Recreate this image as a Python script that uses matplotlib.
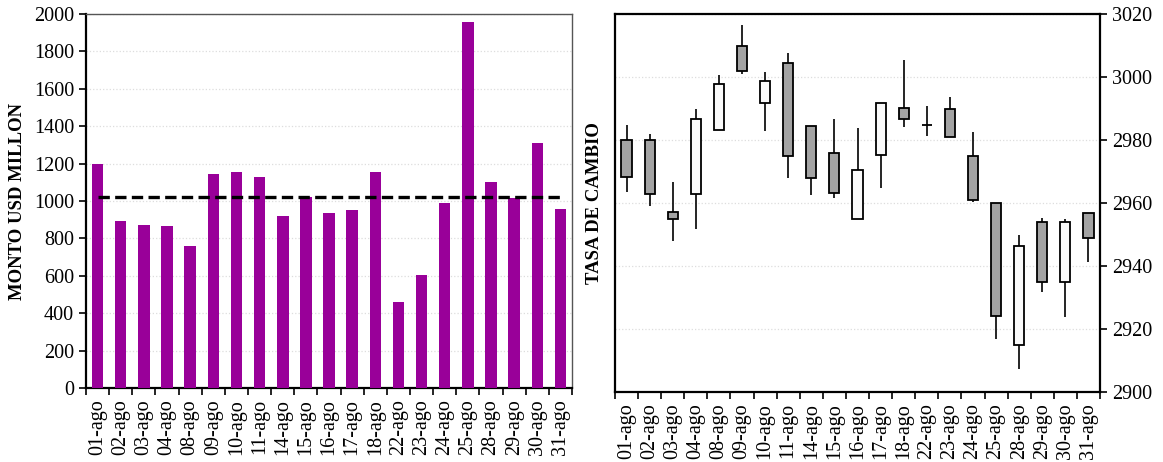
import numpy as np
import matplotlib
matplotlib.use("Agg")
import matplotlib.pyplot as plt

plt.rcParams['font.family'] = ['Liberation Serif', 'DejaVu Serif']

fechas = ['01-ago', '02-ago', '03-ago', '04-ago', '08-ago', '09-ago', '10-ago',
          '11-ago', '14-ago', '15-ago', '16-ago', '17-ago', '18-ago', '22-ago',
          '23-ago', '24-ago', '25-ago', '28-ago', '29-ago', '30-ago', '31-ago']

# monto negociado (USD millones)
monto = [1200, 895, 874, 865, 758, 1144, 1156, 1128, 922, 1024, 935,
         954, 1156, 459, 606, 987, 1959, 1103, 1015, 1310, 958]

# tasa de cambio: apertura, maximo, minimo, cierre
apertura = [2980.0, 2980.0, 2957.0, 2962.8, 2983.3, 3009.7, 2991.7, 3004.6, 2984.3,
            2975.9, 2954.9, 2975.1, 2990.0, 2984.8, 2989.8, 2974.9, 2959.9,
            2914.9, 2953.9, 2934.9, 2956.9]
maximo = [2984.8, 2981.8, 2966.8, 2989.7, 3000.5, 3016.5, 3001.7, 3007.5, 2984.3,
          2986.6, 2983.7, 2991.6, 3005.4, 2990.7, 2993.5, 2982.5, 2959.9,
          2949.8, 2955.3, 2954.8, 2956.9]
minimo = [2963.5, 2959.0, 2947.9, 2951.8, 2983.3, 3000.8, 2982.7, 2967.9, 2962.4,
          2961.7, 2954.9, 2964.8, 2984.0, 2981.3, 2980.8, 2960.3, 2916.9,
          2907.4, 2931.7, 2923.9, 2941.4]
cierre = [2968.4, 2962.8, 2954.9, 2986.8, 2997.8, 3001.9, 2998.8, 2974.9, 2967.8,
          2963.1, 2970.5, 2991.6, 2986.7, 2984.8, 2980.8, 2960.8, 2924.0,
          2946.5, 2934.9, 2953.9, 2949.0]

W, H = 1163, 462
fig = plt.figure(figsize=(W / 100, H / 100), dpi=100)
ax1 = fig.add_axes([86 / W, 1 - 388 / H, 486 / W, 374 / H])
ax2 = fig.add_axes([615 / W, 1 - 392 / H, 485 / W, 378 / H])

n = len(fechas)
x = np.arange(n)
tick_fs = 14.5
label_fs = 13.5


def estilo_x(ax):
    ax.set_xlim(-0.5, n - 0.5)
    ax.set_xticks(x)
    ax.set_xticklabels(fechas, rotation=90, fontsize=tick_fs)
    ax.tick_params(axis='x', which='major', length=0, pad=8)
    ax.set_xticks(np.arange(-0.5, n, 1), minor=True)
    ax.tick_params(axis='x', which='minor', length=5, width=1.2, direction='out')


# ---- monto ----
ax1.bar(x, monto, width=0.5, color='#990099', zorder=3)
media = np.mean(monto)
ax1.plot([x[0], x[-1]], [media, media], color='black', lw=2.4,
         ls=(0, (3.4, 1.6)), zorder=4)
ax1.set_ylim(0, 2000)
ax1.set_yticks(np.arange(0, 2001, 200))
ax1.tick_params(axis='y', labelsize=tick_fs, length=5, width=1.2, direction='out')
ax1.yaxis.grid(True, color='#dddddd', ls=':', lw=0.9, zorder=0)
estilo_x(ax1)
ax1.set_ylabel('MONTO USD MILLON', fontsize=label_fs, fontweight='bold')
ax1.yaxis.set_label_coords(-0.124, 0.5)
for s in ['left', 'bottom']:
    ax1.spines[s].set_linewidth(1.6)
for s in ['top', 'right']:
    ax1.spines[s].set_linewidth(1.0)
    ax1.spines[s].set_color('#555555')

# ---- tasa de cambio ----
ap = np.array(apertura)
ci = np.array(cierre)
ax2.vlines(x, minimo, maximo, color='black', lw=1.2, zorder=2)
base = np.minimum(ap, ci)
alto = np.abs(ci - ap)
colores = ['#a3a3a3' if c < o else '#fafafa' for o, c in zip(ap, ci)]
ax2.bar(x, alto, bottom=base, width=0.44, color=colores,
        edgecolor='black', linewidth=1.3, zorder=3)
ax2.set_ylim(2900, 3020)
ax2.set_yticks(np.arange(2900, 3021, 20))
ax2.yaxis.tick_right()
ax2.tick_params(axis='y', labelsize=tick_fs, length=5, width=1.2, direction='out')
ax2.yaxis.grid(True, color='#dddddd', ls=':', lw=0.9, zorder=0)
estilo_x(ax2)
ax2.set_ylabel('TASA DE CAMBIO', fontsize=label_fs, fontweight='bold')
ax2.yaxis.set_label_position('left')
ax2.yaxis.set_label_coords(-0.024, 0.5)
for s in ax2.spines.values():
    s.set_linewidth(1.6)

fig.savefig('out.png', dpi=100)
